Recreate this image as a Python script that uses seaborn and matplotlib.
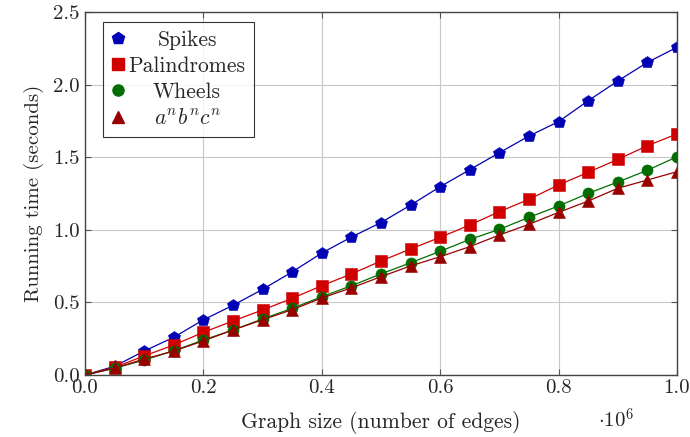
import numpy as np
import pandas as pd
import matplotlib
matplotlib.use("Agg")
import matplotlib.pyplot as plt
from matplotlib.lines import Line2D
from matplotlib.ticker import FuncFormatter
import seaborn as sns

# graph size in edges
sizes = [i * 50000 for i in range(21)]

spikes = [0.0, 0.06, 0.165, 0.26, 0.38, 0.48, 0.59, 0.71, 0.84, 0.95, 1.05,
          1.17, 1.297, 1.414, 1.531, 1.646, 1.745, 1.889, 2.025, 2.153, 2.257]
palindromes = [0.0, 0.053, 0.131, 0.207, 0.294, 0.372, 0.448, 0.528, 0.615, 0.696, 0.785,
               0.868, 0.948, 1.033, 1.125, 1.21, 1.309, 1.396, 1.485, 1.579, 1.66]
wheels = [0.0, 0.046, 0.103, 0.167, 0.241, 0.31, 0.386, 0.459, 0.539, 0.615, 0.696,
          0.773, 0.852, 0.934, 1.003, 1.086, 1.164, 1.251, 1.329, 1.41, 1.503]
anbncn = [0.0, 0.048, 0.11, 0.165, 0.235, 0.31, 0.38, 0.45, 0.53, 0.60, 0.677,
          0.751, 0.815, 0.884, 0.964, 1.038, 1.12, 1.198, 1.286, 1.343, 1.40]

names = ["Spikes", "Palindromes", "Wheels", r"$a^nb^nc^n$"]
colors = ["#0000b4", "#d00000", "#006e00", "#980000"]
markers = ["p", "s", "o", "^"]

sns.set_style("ticks")
plt.rcParams["font.family"] = "serif"
plt.rcParams["font.serif"] = ["cmr10", "DejaVu Serif"]
plt.rcParams["mathtext.fontset"] = "cm"
plt.rcParams["axes.formatter.use_mathtext"] = True

df = pd.DataFrame({"size": sizes * 4,
                   "time": spikes + palindromes + wheels + anbncn,
                   "series": sum([[n] * len(sizes) for n in names], [])})

fig = plt.figure(figsize=(6.9, 4.37), dpi=100)
ax = fig.add_axes([85 / 690, 1 - 375 / 437, 592 / 690, 363 / 437])

for name, c, m in zip(names, colors, markers):
    sub = df[df["series"] == name]
    sns.lineplot(data=sub, x="size", y="time", ax=ax, color=c, marker=m,
                 markersize=8 if m != "p" else 9, markeredgewidth=0.4,
                 markeredgecolor=c, linewidth=0.9, legend=False)

ax.set_xlim(0, 1e6)
ax.set_ylim(0, 2.5)
ax.set_xticks(np.arange(0, 1.01e6, 2e5))
ax.set_yticks(np.arange(0, 2.51, 0.5))
ax.xaxis.set_major_formatter(FuncFormatter(lambda v, p: f"{v / 1e6:.1f}"))
ax.yaxis.set_major_formatter(FuncFormatter(lambda v, p: f"{v:.1f}"))
ax.grid(True, color="#c8c8c8", linewidth=0.8)
ax.tick_params(direction="in", length=4, labelsize=15, top=True, right=True,
               color="#555555", pad=3)
ax.tick_params(axis="y", pad=4)
for s in ax.spines.values():
    s.set_color("#444444")
    s.set_linewidth(1.0)

ax.set_xlabel("Graph size (number of edges)", fontsize=15.5, labelpad=10)
ax.set_ylabel("Running time (seconds)", fontsize=15, labelpad=6)
fig.text(598 / 690, 1 - 420 / 437, r"$\cdot 10^6$", fontsize=15, ha="left", va="center")

handles = [Line2D([], [], color=c, marker=m, linestyle="none",
                  markersize=8 if m != "p" else 9)
           for c, m in zip(colors, markers)]
leg = ax.legend(handles, names, loc="upper left", bbox_to_anchor=(0.03, 0.973),
                frameon=True, fancybox=False, edgecolor="black", fontsize=15.5,
                handlelength=0.6, handletextpad=0.2, borderpad=0.4,
                labelspacing=0.3, borderaxespad=0)
leg.get_frame().set_linewidth(0.8)

# center the legend entries like pgfplots does
fig.canvas.draw()
r = fig.canvas.get_renderer()
widths = [t.get_window_extent(r).width for t in leg.get_texts()]
for t, w in zip(leg.get_texts(), widths):
    t.set_position(((max(widths) - w) / 2, 0))

fig.savefig("out.png", dpi=100)
